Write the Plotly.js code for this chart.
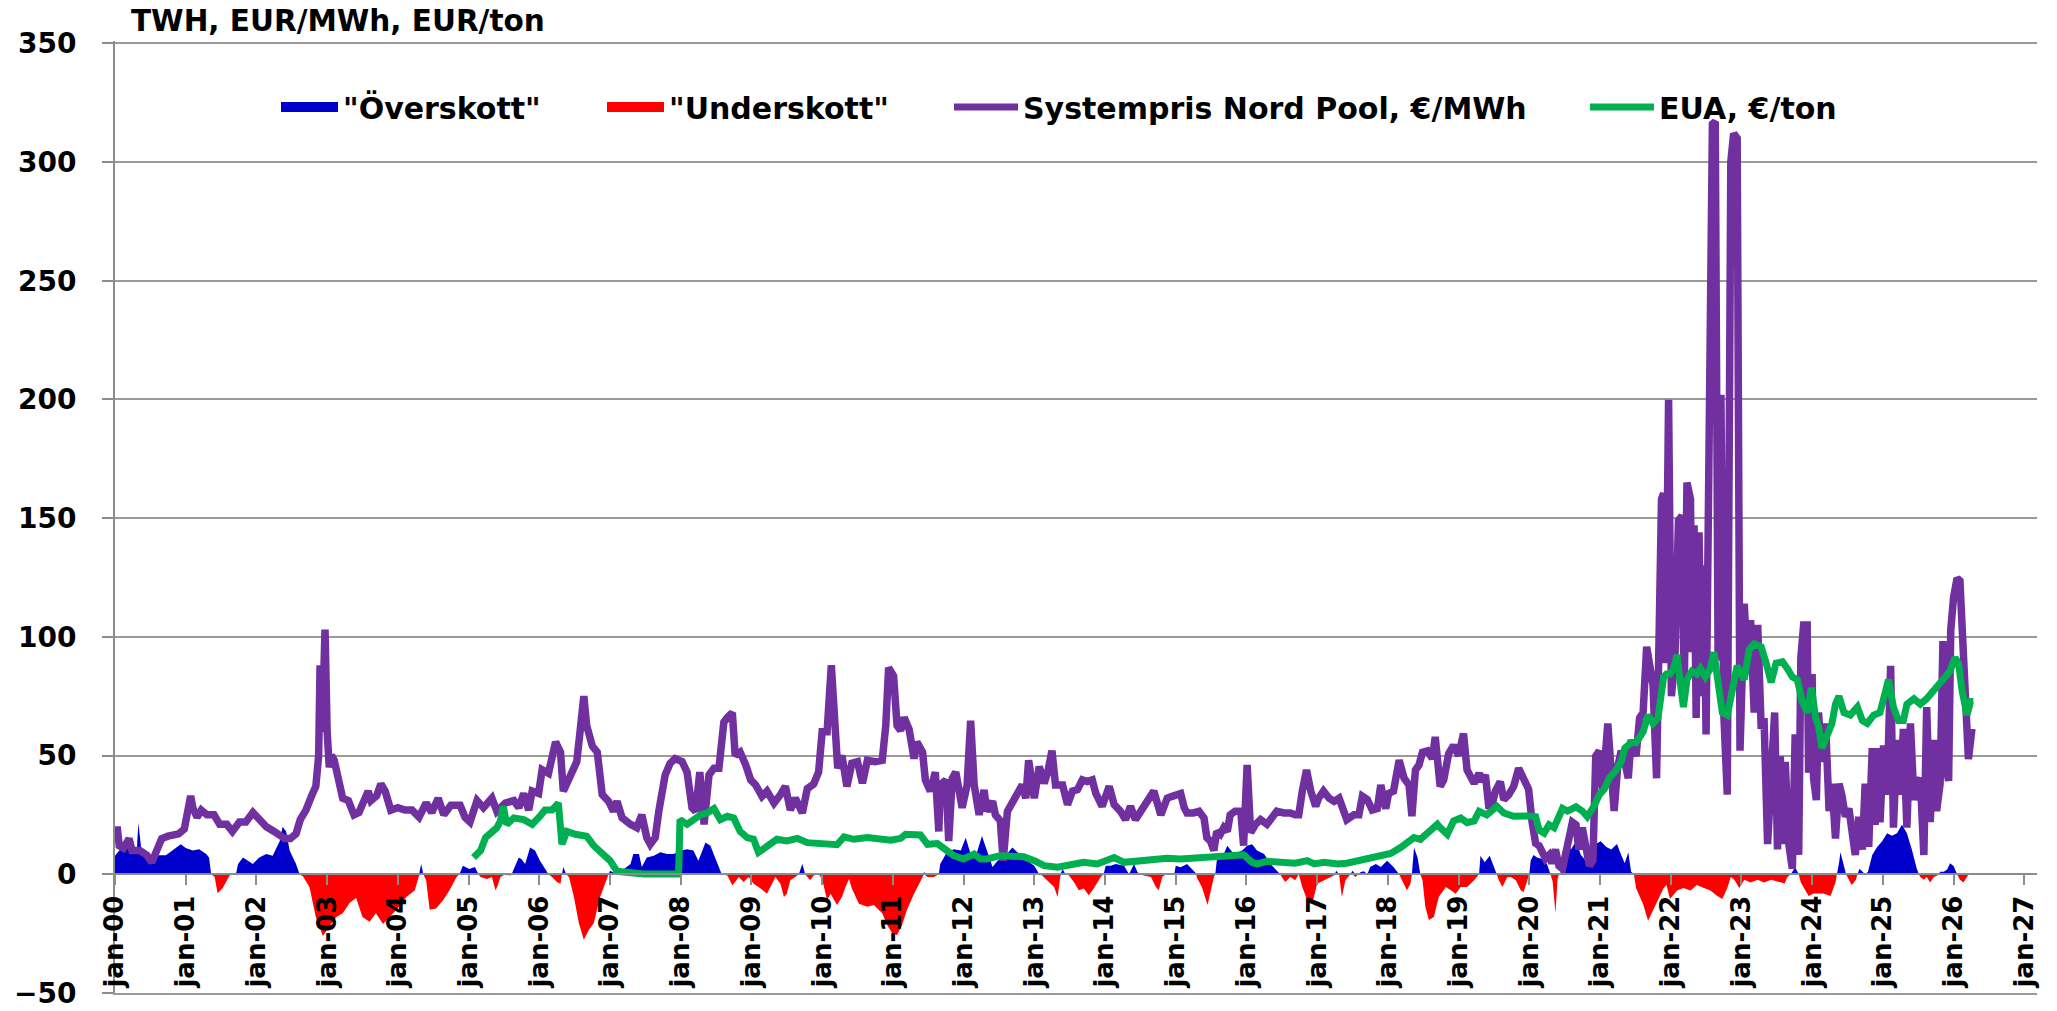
<!DOCTYPE html>
<html>
<head>
<meta charset="utf-8">
<script src="https://cdn.plot.ly/plotly-3.0.1.min.js"></script>
<style>
html,body{margin:0;padding:0;background:#ffffff;overflow:hidden;}
#chart{width:2057px;height:1011px;}
</style>
</head>
<body>
<div id="chart"></div>
<script>
// ---------- tick labels ----------
const yearTicks = [2000,2001,2002,2003,2004,2005,2006,2007,2008,2009,2010,2011,2012,2013,
  2014,2015,2016,2017,2018,2019,2020,2021,2022,2023,2024,2025,2026,2027];
const tickLabels = ["jan-00","jan-01","jan-02","jan-03","jan-04","jan-05","jan-06","jan-07",
  "jan-08","jan-09","jan-10","jan-11","jan-12","jan-13","jan-14","jan-15","jan-16","jan-17",
  "jan-18","jan-19","jan-20","jan-21","jan-22","jan-23","jan-24","jan-25","jan-26","jan-27"];
const valueTicks = [-50,0,50,100,150,200,250,300,350];

const seriesNames = ['"Överskott"', '"Underskott"', 'Systempris Nord Pool, €/MWh', 'EUA, €/ton'];

// ---------- Systempris Nord Pool, €/MWh (time in decimal years) ----------
const priceX = [
  2000.00,2000.03,2000.06,2000.12,2000.20,2000.24,2000.35,2000.45,2000.52,2000.60,2000.66,2000.75,2000.90,2000.98,
  2001.03,2001.07,2001.10,2001.16,2001.22,2001.30,2001.40,2001.48,2001.58,2001.66,2001.76,2001.85,2001.95,
  2002.05,2002.14,2002.25,2002.40,2002.48,2002.56,2002.62,2002.70,2002.78,2002.84,2002.88,2002.90,2002.93,2002.97,
  2003.00,2003.03,2003.06,2003.10,2003.16,2003.22,2003.30,2003.38,2003.45,2003.52,2003.58,2003.62,2003.70,2003.76,2003.82,2003.90,
  2004.00,2004.10,2004.20,2004.30,2004.40,2004.48,2004.57,2004.65,2004.75,2004.88,2004.95,
  2005.02,2005.12,2005.21,2005.33,2005.40,2005.52,2005.64,2005.71,2005.78,2005.85,2005.90,2005.99,
  2006.04,2006.13,2006.23,2006.30,2006.34,2006.44,2006.53,2006.58,2006.63,2006.67,2006.75,2006.82,2006.89,2006.98,
  2007.05,2007.10,2007.17,2007.29,2007.38,2007.45,2007.52,2007.57,2007.64,2007.69,2007.78,2007.85,2007.92,
  2008.02,2008.09,2008.16,2008.21,2008.27,2008.33,2008.40,2008.47,2008.54,2008.61,2008.66,2008.73,2008.77,2008.84,2008.92,2008.99,
  2009.06,2009.15,2009.22,2009.32,2009.41,2009.48,2009.55,2009.62,2009.72,2009.79,2009.88,2009.95,
  2010.00,2010.07,2010.13,2010.19,2010.22,2010.28,2010.35,2010.42,2010.50,2010.57,2010.64,2010.75,2010.85,2010.90,2010.94,
  2011.01,2011.06,2011.11,2011.16,2011.23,2011.30,2011.34,2011.42,2011.46,2011.53,2011.60,2011.65,2011.67,2011.75,2011.79,2011.84,2011.89,2011.93,2011.98,
  2012.05,2012.10,2012.15,2012.22,2012.29,2012.33,2012.41,2012.45,2012.52,2012.56,2012.62,2012.69,2012.76,2012.83,2012.88,2012.92,
  2013.00,2013.07,2013.14,2013.19,2013.25,2013.30,2013.40,2013.47,2013.54,2013.61,2013.68,2013.75,2013.82,2013.87,2013.96,
  2014.06,2014.13,2014.22,2014.29,2014.36,2014.43,2014.50,2014.60,2014.69,2014.79,2014.88,2014.95,
  2015.02,2015.07,2015.12,2015.16,2015.25,2015.33,2015.40,2015.44,2015.49,2015.54,2015.58,2015.63,2015.68,2015.73,2015.77,2015.84,2015.92,2015.96,
  2016.01,2016.06,2016.13,2016.20,2016.29,2016.36,2016.43,2016.53,2016.62,2016.69,2016.74,2016.79,2016.85,2016.91,2016.98,
  2017.02,2017.09,2017.17,2017.24,2017.31,2017.38,2017.42,2017.52,2017.59,2017.64,2017.71,2017.78,2017.85,2017.90,2017.97,
  2018.01,2018.08,2018.16,2018.23,2018.30,2018.34,2018.39,2018.44,2018.49,2018.56,2018.63,2018.67,2018.74,2018.79,2018.86,2018.93,
  2019.00,2019.07,2019.12,2019.22,2019.29,2019.33,2019.38,2019.43,2019.48,2019.52,2019.59,2019.64,2019.71,2019.78,2019.85,2019.92,2019.99,
  2020.04,2020.09,2020.14,2020.18,2020.23,2020.28,2020.32,2020.37,2020.42,2020.47,2020.51,2020.56,2020.61,2020.66,2020.70,2020.75,2020.80,2020.85,2020.90,2020.94,2020.99,
  2021.04,2021.11,2021.16,2021.20,2021.25,2021.30,2021.35,2021.40,2021.44,2021.51,2021.56,2021.61,2021.66,2021.70,2021.75,2021.80,2021.85,2021.87,2021.90,2021.93,2021.97,
  2022.01,2022.06,2022.11,2022.16,2022.19,2022.23,2022.28,2022.30,2022.33,2022.36,2022.40,2022.44,2022.47,2022.50,2022.54,2022.59,2022.63,2022.67,2022.71,2022.75,2022.80,2022.85,2022.89,2022.94,2022.98,
  2023.04,2023.09,2023.13,2023.18,2023.23,2023.28,2023.32,2023.37,2023.42,2023.47,2023.51,2023.55,2023.58,2023.62,2023.67,2023.72,2023.76,2023.81,2023.84,2023.88,2023.93,2023.95,
  2024.00,2024.02,2024.06,2024.09,2024.14,2024.19,2024.24,2024.28,2024.33,2024.38,2024.42,2024.47,2024.52,2024.56,2024.61,2024.66,2024.71,2024.75,2024.80,2024.85,2024.89,2024.93,2024.96,
  2025.01,2025.06,2025.11,2025.15,2025.20,2025.25,2025.29,2025.34,2025.39,2025.44,2025.48,2025.53,2025.58,2025.62,2025.67,2025.72,2025.76,2025.81,2025.85,2025.88,2025.93,2025.96,
  2026.00,2026.05,2026.09,2026.14,2026.18,2026.21,2026.26
];
const priceY = [
  14,20,12,11,15,10,10,8,5,10,15,16,17,19,
  26,33,28,24,27,25,25,21,21,18,22,22,26,
  23,20,18,15,15,17,23,27,33,37,50,88,60,103,
  60,45,50,48,40,32,31,25,26,30,35,31,33,38,35,27,
  28,27,27,24,30,26,32,25,29,29,24,
  22,31,28,32,26.5,30,31,28,34,27,35,34,
  44,42.5,55.7,51.4,35,41.8,47.4,61,75,62.6,54,51.4,33.5,30.7,
  26.5,30.7,23.8,21,19.6,25,15.4,12.6,15.4,26.5,41.8,46.7,48.7,
  47.4,43,28,26.5,43,21,41.8,44.6,44.6,64,66,68,50,51.4,46,39.7,
  37.6,32.8,35,30,33.5,37,27,32,25.8,36,38,43,
  60,60,88,60,44.6,50,37,46.7,47.4,38.3,48,47.4,48,62.6,87,
  83.5,62.6,60.5,66,61,48.7,55.7,51.4,39.7,35,43,18,37.6,39.7,14,40.4,43,35,28,
  37.6,64.7,37.6,25,35.5,26.5,30.7,25,22.4,5.7,26.5,30,35,37.6,32,48,
  32,45.3,38.3,43,52,37.6,37.6,29.3,35,35.6,39.7,39,39.7,34,28.6,
  37,29.3,26.5,23,28.6,23,26.5,30.7,35,25,32,32.8,
  33.5,34,28,25.8,25.8,26.5,23.7,15.4,14,10,18,16.8,19.6,18,25,26.5,26.5,12,
  46,17.5,21,23,21,23.7,26.5,25.8,25.8,25,25,35,43.9,35,28.6,
  32,35,32,30.7,32,26.5,23,25,25,32.8,31.4,27,27.6,37.6,27.6,
  34,35,48,40.4,37.6,24.4,43.9,46,51.4,52,48.7,57.8,37,39.7,50.8,54.3,
  50,59.2,43.9,38.3,42.5,39,41.8,27.6,30,35,39,31.4,33.5,37,44.6,39.7,35.8,
  22,13,12,10,6.5,8,4.6,10.4,3.5,2.3,8.1,12.7,21.9,20.8,10.4,19.6,10.4,3.5,5.8,49.7,52,
  35.8,63.5,35.8,26.6,45,52,47.3,40.4,56.6,49.7,65.8,68.1,95.8,88.9,79.7,40.4,126,158,160.5,88.9,199.8,
  75,91.2,149,151,75,165,158,93.5,147,65.8,144,75,130,58.9,149,316,317,90,202,68.1,33.5,300,312,310,52,
  114,84.3,107,68.1,105,61.2,65.8,12.7,45,68.1,10.4,49.7,12.7,47.3,12.7,2.3,58.9,8.1,91.2,105,105,42.7,
  84.3,40.4,31.2,68.1,47.3,63.5,26.6,38.1,15,38.1,33.5,24.2,27.7,19.6,8.1,24.2,10.4,38.1,11.5,53.1,20.8,53.1,21.9,
  54.3,33.5,87.8,19.6,56.6,33.5,61.2,19.6,63.5,31.2,38.1,40.4,8.1,70.4,21.9,56.6,26.6,38.1,98.2,47.3,39.3,102.8,
  116.6,124.7,123.6,84.3,72.7,48.5,61.2
];

// ---------- EUA, €/ton ----------
const euaX = [
  2005.07,2005.17,2005.24,2005.33,2005.40,2005.45,2005.49,2005.54,2005.64,2005.78,2005.90,
  2006.01,2006.08,2006.18,2006.27,2006.32,2006.39,2006.51,2006.67,2006.77,2006.89,
  2007.00,2007.10,2007.24,2007.48,2007.97,2007.99,
  2008.09,2008.18,2008.28,2008.37,2008.47,2008.56,2008.66,2008.75,2008.84,2008.94,
  2009.03,2009.10,2009.22,2009.36,2009.50,2009.65,2009.79,2009.98,
  2010.21,2010.31,2010.45,2010.64,2010.83,2010.97,
  2011.11,2011.18,2011.39,2011.49,2011.63,2011.75,2011.86,
  2012.00,2012.15,2012.24,2012.33,2012.52,2012.71,2012.85,
  2013.00,2013.14,2013.33,2013.52,2013.70,2013.89,
  2014.13,2014.27,2014.46,2014.65,2014.88,
  2015.07,2015.30,2015.54,2015.77,2015.96,
  2016.08,2016.15,2016.29,2016.43,2016.58,2016.69,2016.86,2016.96,
  2017.10,2017.29,2017.42,2017.61,2017.71,2017.90,
  2018.04,2018.18,2018.27,2018.37,2018.46,2018.60,2018.70,2018.74,2018.84,2018.93,
  2019.03,2019.12,2019.22,2019.29,2019.40,2019.54,2019.64,2019.78,2019.92,
  2020.00,2020.09,2020.14,2020.21,2020.28,2020.35,2020.47,2020.54,2020.66,2020.75,2020.82,2020.92,2020.99,
  2021.06,2021.13,2021.23,2021.30,2021.35,2021.44,2021.51,2021.61,2021.68,2021.75,2021.82,2021.90,2021.94,2021.99,
  2022.04,2022.09,2022.13,2022.18,2022.23,2022.30,2022.37,2022.42,2022.49,2022.56,2022.61,2022.68,2022.73,2022.80,2022.87,2022.94,
  2023.04,2023.11,2023.18,2023.28,2023.35,2023.42,2023.49,2023.58,2023.65,2023.72,2023.79,2023.86,2023.93,2023.99,
  2024.05,2024.09,2024.14,2024.21,2024.28,2024.33,2024.38,2024.45,2024.54,2024.64,2024.71,2024.78,2024.87,2024.96,
  2025.04,2025.08,2025.15,2025.22,2025.29,2025.34,2025.44,2025.53,2025.62,2025.72,2025.81,2025.88,2025.95,
  2026.02,2026.07,2026.12,2026.19,2026.24,2026.28
];
const euaY = [
  7,10,15.4,18,19.6,22.4,28.6,21,23.7,23,21,
  24.4,27,27,30,12.6,18,16.8,16,12,8.5,
  5.7,1.2,0.8,0.1,0.1,23,
  21,23,25,25.8,27.6,23,24.4,23.7,18,15.4,
  14.7,9.2,12,14.7,14,15.1,13.3,12.9,
  12.4,15.7,14.7,15.4,14.7,14.3,
  15.1,16.8,16.5,12.6,12.9,10,7.8,
  6.4,8.5,6.4,6.4,7.8,7.4,7.4,
  5.7,3.6,2.9,3.9,5,4.3,
  7,5,5.4,6.4,6.7,
  6.4,7,7.8,8.2,8.2,
  5,4.3,5.4,5,4.3,4.6,5.7,4.3,
  5,4.3,4.6,5.7,7,7.8,
  8.7,11.2,13.3,15.4,14.7,18,21,19.6,16.8,22.4,
  23.7,21.7,22.4,26.5,25,28.6,25.8,24.4,24.9,
  24.5,24.2,18.5,17.3,20.8,19.6,27.7,26.6,28.4,26.6,24.2,28.9,33.5,
  35.8,40.4,43.9,47.3,53.1,55.4,55.4,60,67,63.5,65.8,83.1,84.3,84.3,
  86.6,92.4,82,70.4,82,85.5,84.3,86.6,83.1,86.6,93.5,77.4,68.1,67,76.2,87.8,
  82,94.7,97,95.8,88.9,80.8,88.9,89.5,86.6,83.1,82,72.7,68.1,78.5,
  65.8,62.4,53.1,57.7,63.5,71.6,75,68.1,67,70.4,64.7,63.5,67,68.1,
  77.4,82,70.4,64.7,64.7,71.6,73.9,71.6,73.9,77.4,79.7,83.1,85.5,
  91.2,88.9,77.4,67,72.7,72.7
];

// ---------- Hydrological balance, TWh (positive = "Överskott", negative = "Underskott") ----------
const balanceX = [
  2000.00,2000.06,2000.23,2000.31,2000.33,2000.37,2000.49,2000.72,2000.93,
  2001.00,2001.10,2001.19,2001.29,2001.33,2001.36,2001.41,2001.45,2001.52,2001.62,2001.67,2001.71,2001.74,2001.81,2001.95,
  2002.04,2002.14,2002.23,2002.33,2002.37,2002.42,2002.47,2002.56,2002.61,2002.66,2002.75,2002.84,2002.94,
  2003.03,2003.13,2003.22,2003.32,2003.41,2003.50,2003.60,2003.69,2003.79,2003.88,2003.98,
  2004.12,2004.24,2004.30,2004.33,2004.36,2004.40,2004.45,2004.54,2004.64,2004.73,2004.83,2004.87,2004.92,
  2005.01,2005.09,2005.14,2005.17,2005.26,2005.33,2005.38,2005.41,2005.45,2005.50,2005.59,2005.61,2005.64,2005.71,2005.75,2005.80,2005.87,2005.94,
  2006.01,2006.13,2006.18,2006.25,2006.30,2006.32,2006.34,2006.38,2006.42,2006.49,2006.56,2006.63,2006.70,2006.77,2006.86,2006.96,2006.98,
  2007.00,2007.10,2007.29,2007.33,2007.41,2007.45,2007.52,2007.62,2007.71,2007.81,2007.90,
  2008.00,2008.09,2008.18,2008.25,2008.35,2008.42,2008.51,2008.58,2008.66,2008.73,2008.77,2008.82,2008.89,2008.96,
  2009.03,2009.13,2009.22,2009.29,2009.34,2009.41,2009.46,2009.50,2009.55,2009.62,2009.67,2009.72,2009.76,2009.83,2009.88,2009.95,
  2010.00,2010.07,2010.12,2010.21,2010.28,2010.33,2010.38,2010.42,2010.52,2010.64,2010.73,2010.85,2010.92,2010.99,
  2011.06,2011.13,2011.20,2011.30,2011.37,2011.42,2011.44,2011.49,2011.58,2011.65,2011.67,2011.75,2011.86,2011.96,
  2012.03,2012.10,2012.19,2012.26,2012.33,2012.41,2012.48,2012.57,2012.69,2012.81,2012.90,
  2013.00,2013.07,2013.11,2013.18,2013.28,2013.33,2013.37,2013.40,2013.44,2013.49,2013.56,2013.63,2013.70,2013.77,2013.84,2013.94,2013.98,
  2014.01,2014.08,2014.15,2014.27,2014.34,2014.41,2014.46,2014.50,2014.55,2014.65,2014.72,2014.76,2014.81,2014.86,2014.98,
  2015.00,2015.07,2015.16,2015.25,2015.29,2015.30,2015.37,2015.45,2015.54,2015.56,2015.58,2015.68,2015.73,2015.82,2015.94,
  2016.01,2016.08,2016.15,2016.25,2016.34,2016.43,2016.48,2016.50,2016.55,2016.62,2016.69,2016.74,2016.79,2016.86,2016.93,
  2017.00,2017.09,2017.19,2017.25,2017.27,2017.31,2017.33,2017.35,2017.40,2017.47,2017.50,2017.54,2017.59,2017.61,2017.66,2017.71,2017.75,2017.83,2017.90,2017.99,
  2018.08,2018.16,2018.20,2018.27,2018.32,2018.34,2018.37,2018.42,2018.46,2018.49,2018.53,2018.58,2018.65,2018.72,2018.82,2018.89,2018.96,
  2019.03,2019.12,2019.22,2019.29,2019.31,2019.37,2019.44,2019.50,2019.54,2019.57,2019.62,2019.69,2019.74,2019.81,2019.88,2019.92,2019.97,
  2020.00,2020.02,2020.06,2020.11,2020.18,2020.25,2020.30,2020.33,2020.37,2020.40,2020.42,2020.44,2020.47,2020.54,2020.59,2020.66,2020.73,2020.80,2020.87,2020.94,
  2021.01,2021.09,2021.16,2021.24,2021.30,2021.35,2021.40,2021.44,2021.48,2021.51,2021.61,2021.68,2021.75,2021.82,2021.90,2021.94,2021.99,
  2022.09,2022.18,2022.28,2022.37,2022.47,2022.56,2022.66,2022.73,2022.80,2022.85,2022.90,2022.97,
  2023.04,2023.13,2023.23,2023.32,2023.42,2023.51,2023.61,2023.65,2023.70,2023.72,2023.76,2023.81,2023.84,2023.91,2023.95,
  2024.02,2024.09,2024.16,2024.26,2024.33,2024.35,2024.38,2024.40,2024.45,2024.48,2024.52,2024.56,2024.62,2024.64,2024.67,2024.71,2024.75,2024.79,2024.85,2024.92,2024.99,
  2025.06,2025.13,2025.20,2025.27,2025.34,2025.41,2025.48,2025.51,2025.53,2025.58,2025.62,2025.67,2025.72,2025.79,2025.81,2025.86,2025.91,2025.95,
  2026.00,2026.05,2026.09,2026.14,2026.19,2026.21,2026.24
];
const balanceY = [
  7.8,10,12,11,21.7,11,8,8,12.6,
  11,10,10.5,8.5,7,0,-1.2,-8,-6,-0.5,0,0,4.3,7,4.3,
  7,8.5,7.8,14,20,18,10,4.3,0,-1,-5.4,-18,-26,
  -22,-18,-16.5,-12,-10,-18,-20,-16.5,-21,-18,-15,
  -9.6,-6.8,-0.5,4.3,0,-2.6,-15,-14.4,-11,-6.8,-1.2,0,3.6,
  2.2,3,0,-1.2,-2,-1.2,-6.8,-5,-1.2,-0.3,-0.5,0,2.2,7,6.3,4.3,11.2,10,
  5.7,0,-1.2,-3.3,-4,0,3,0,-1.2,-9.6,-20.7,-27.6,-23.5,-20.7,-9.6,-1.2,0,
  1.5,0,4.3,8.5,8.5,3,7,7.8,9.2,8.5,8.5,
  10,10.5,10,5.7,13.3,12,5.7,0,-0.5,-4.7,-3.3,-1.2,-3.3,-1.2,
  -4,-6,-8.2,-4,-1.2,-4,-9.6,-8.2,-2.6,-1.2,0,4.3,0,-2.6,-0.5,0,
  -2,-11,-8.2,-13,-9.6,-5.4,-2,-6,-12.4,-13.7,-13,-16.5,-21.4,-24.9,
  -25.6,-21.4,-15,-8.2,-4,-0.5,0.8,-1.2,-1.2,0,4.3,8.5,10.5,10,
  15.4,8.5,9.2,16.1,10,3,5.7,7,11.2,7.8,5.7,
  3.6,0,-0.5,-2.6,-5.4,-9.6,-0.5,2.2,0,-0.5,-3.3,-6.8,-6,-8.9,-6,-1.2,0,
  3.6,3.6,4.3,3.6,0,4.3,0.8,0,-0.5,-1.2,-5.4,-6.8,-1.2,0,0,
  3.6,2.9,4.3,1.5,0,-1.5,-5.4,-13,-1.2,0,5.7,8.5,12,8.5,10,
  12,12.6,10,8.5,4.3,1.5,0,-1.2,-3.3,-1.2,-2.6,0,-5.4,-11,-12.4,
  -4,-2.6,-1.2,0,1.5,0,-4,-9.6,-2.6,0,1.5,-1.2,0,0.8,1.2,0,3,4.3,3,5.7,
  3,0,-2.6,-6.8,-4,0,11.2,7,0,-2.6,-13.7,-19.3,-18,-9.6,-5.4,-6.8,-8.2,
  -5.4,-5.4,-2.6,0,7.8,5,7.8,3,0,-2.6,-5.4,-1.2,-1.2,-2.6,-6.8,-7.5,-3.3,
  0,5.8,8.1,7,6.4,4.3,0,-3,-16.5,-2,0,0,9.2,13.9,10.4,13.9,8.1,5.8,5.8,12.7,
  13.9,11.5,10.4,12.7,8.1,4.6,9.2,1,0,-5.8,-12.7,-19.6,-15,-10.4,-5.8,-4.6,-10.4,
  -6.9,-5.8,-6.9,-4.6,-5.8,-6.9,-9.2,-10.4,-5.8,-1.2,-2.3,-5.8,
  -2.3,-3.5,-2.3,-3.5,-2.3,-3,-3.9,-1.2,0,1,3,0,-3.5,-6.9,-9.2,
  -8.1,-8.1,-8.1,-9.2,-3.5,0,4.6,9.2,3.5,0,-2.3,-4.6,-2.3,0,2.3,1,0,1,8.1,11.5,13.9,
  17.3,16.2,17.3,20.8,17.3,10.4,2.3,0,-1.2,-2.3,-1.2,-3.5,-1.2,0,1,1,2,4.6,
  3.5,0,-2.3,-3.5,-1.2,0,0
];

// ---------- derived fill series ----------
const surplusY = balanceY.map(v => (v > 0 ? v : 0));
const deficitY = balanceY.map(v => (v < 0 ? v : 0));

const BLUE = '#0000CC', RED = '#FF0000', PURPLE = '#7030A0', GREEN = '#00B050';
const GRID = '#9A9A9A', AXIS = '#8C8C8C';
const FONT = 'DejaVu Sans, Verdana, sans-serif';
const X_RANGE = [2000, 2027.18];
const Y_RANGE = [-50.05, 351];
// plot area: top 41 px, bottom 993 px (bottom edge = the -50 line)
const PLOT_TOP = 41, PLOT_BOTTOM = 993;

const traces = [
  {x: balanceX, y: surplusY, type: 'scatter', mode: 'lines', fill: 'tozeroy',
   fillcolor: BLUE, line: {width: 0, color: BLUE}, showlegend: false, hoverinfo: 'skip'},
  {x: balanceX, y: deficitY, type: 'scatter', mode: 'lines', fill: 'tozeroy',
   fillcolor: RED, line: {width: 0, color: RED}, showlegend: false, hoverinfo: 'skip'},
  {x: priceX, y: priceY, type: 'scatter', mode: 'lines', name: seriesNames[2],
   line: {color: PURPLE, width: 7.5}, showlegend: false},
  {x: euaX, y: euaY, type: 'scatter', mode: 'lines', name: seriesNames[3],
   line: {color: GREEN, width: 7}, showlegend: false},
  // empty trace that carries the bottom frame axis (draws the -50 line)
  {x: [null], y: [null], type: 'scatter', mode: 'lines', xaxis: 'x2', yaxis: 'y',
   showlegend: false, hoverinfo: 'skip'},
  // legend entries
  {x: [null], y: [null], type: 'scatter', mode: 'lines', name: seriesNames[0],
   line: {color: BLUE, width: 18}, legend: 'legend'},
  {x: [null], y: [null], type: 'scatter', mode: 'lines', name: seriesNames[1],
   line: {color: RED, width: 18}, legend: 'legend2'},
  {x: [null], y: [null], type: 'scatter', mode: 'lines', name: seriesNames[2],
   line: {color: PURPLE, width: 7}, legend: 'legend3'},
  {x: [null], y: [null], type: 'scatter', mode: 'lines', name: seriesNames[3],
   line: {color: GREEN, width: 7}, legend: 'legend4'}
];

const legendFont = {family: FONT, size: 30, color: '#000000', weight: 'bold'};
function legendAt(xp, w) {
  return {x: xp, y: (PLOT_BOTTOM - 107) / (PLOT_BOTTOM - PLOT_TOP), xanchor: 'left', yanchor: 'middle',
          orientation: 'h', bgcolor: 'rgba(0,0,0,0)', borderwidth: 0, font: legendFont, itemwidth: w};
}

const layout = {
  width: 2057, height: 1011,
  paper_bgcolor: '#ffffff', plot_bgcolor: '#ffffff',
  margin: {l: 115, r: 20, t: PLOT_TOP, b: 1011 - PLOT_BOTTOM, pad: 0},
  showlegend: true,
  title: {text: 'TWH, EUR/MWh, EUR/ton', x: 131 / 2057, xanchor: 'left', xref: 'container',
          y: 1 - 21 / 1011, yanchor: 'middle', yref: 'container',
          font: {family: FONT, size: 29.5, color: '#000000', weight: 'bold'}},
  xaxis: {
    type: 'linear', range: X_RANGE, tickmode: 'array',
    tickvals: yearTicks, ticktext: tickLabels, tickangle: -90,
    anchor: 'free', position: (0 - Y_RANGE[0]) / (Y_RANGE[1] - Y_RANGE[0]),
    showgrid: false, zeroline: false,
    showline: true, linecolor: AXIS, linewidth: 2,
    ticks: 'outside', ticklen: 10, tickwidth: 2, tickcolor: AXIS,
    tickfont: {family: FONT, size: 26, color: '#000000', weight: 'bold'},
    ticklabeloverflow: 'allow',
    automargin: false, fixedrange: true
  },
  // frame axis at the bottom edge: only its line is shown (the -50 gridline)
  xaxis2: {
    type: 'linear', range: X_RANGE, overlaying: 'x', anchor: 'y', side: 'bottom',
    showline: true, linecolor: GRID, linewidth: 2, showticklabels: false, ticks: '',
    showgrid: false, zeroline: false, automargin: false, fixedrange: true
  },
  yaxis: {
    range: Y_RANGE, tickmode: 'array', tickvals: valueTicks,
    showgrid: true, gridcolor: GRID, gridwidth: 2, zeroline: false,
    showline: true, linecolor: AXIS, linewidth: 2,
    ticks: 'outside', ticklen: 11, tickwidth: 2, tickcolor: AXIS,
    ticklabelstandoff: 20, ticklabeloverflow: 'allow',
    tickfont: {family: FONT, size: 28, color: '#000000', weight: 'bold'},
    automargin: false, fixedrange: true
  },
  legend: legendAt((276 - 115) / 1922, 57),
  legend2: legendAt((602 - 115) / 1922, 57),
  legend3: legendAt((949 - 115) / 1922, 64),
  legend4: legendAt((1585 - 115) / 1922, 64)
};

Plotly.newPlot('chart', traces, layout, {displayModeBar: false, staticPlot: true});
</script>
</body>
</html>
